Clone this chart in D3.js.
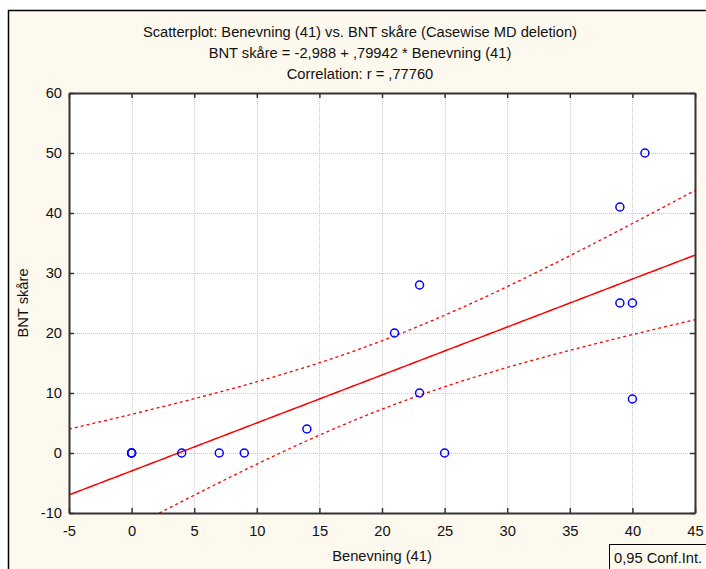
<!DOCTYPE html>
<html>
<head>
<meta charset="utf-8">
<script src="https://cdn.jsdelivr.net/npm/d3@7"></script>
<style>
  html, body { margin: 0; padding: 0; background: #ffffff; }
  svg { display: block; font-family: "Liberation Sans", Arial, sans-serif; }
  .tick text { font-size: 14.7px; fill: #111; }
</style>
</head>
<body>
<div id="chart"></div>
<script>
// data (three cases sit on top of each other at 0,0)
const benevning = [0, 0, 0, 4, 7, 9, 14, 21, 23, 23, 25, 39, 39, 40, 40, 41];
const bntSkare  = [0, 0, 0, 0, 0, 0, 4, 20, 28, 10, 0, 41, 25, 25, 9, 50];
const xTicks = [-5, 0, 5, 10, 15, 20, 25, 30, 35, 40, 45];
const yTicks = [-10, 0, 10, 20, 30, 40, 50, 60];
const titleLines = [
    'Scatterplot: Benevning (41) vs. BNT skåre (Casewise MD deletion)',
    'BNT skåre = -2,988 + ,79942 * Benevning (41)',
    'Correlation: r = ,77760'
];

const width = 706, height = 569;
const margin = { left: 69, right: 11, top: 93, bottom: 56 };
const fs = 14.7;

const svg = d3.select('#chart')
    .append('svg')
    .attr('width', width)
    .attr('height', height);

// outer panel
svg.append('rect')
    .attr('x', 8.5).attr('y', 10.5)
    .attr('width', 710).attr('height', 600)
    .attr('fill', '#fdf9ee')
    .attr('stroke', '#000')
    .attr('stroke-width', 1.5);

const x = d3.scaleLinear().domain([-5, 45]).range([margin.left, width - margin.right]);
const y = d3.scaleLinear().domain([-10, 60]).range([height - margin.bottom, margin.top]);

// plot area
svg.append('rect')
    .attr('x', x(-5)).attr('y', y(60))
    .attr('width', x(45) - x(-5)).attr('height', y(-10) - y(60))
    .attr('fill', '#fff');

// grid
const grid = svg.append('g')
    .attr('stroke', '#c8c8c8')
    .attr('stroke-width', 1)
    .attr('stroke-dasharray', '1,1');
grid.selectAll('.gx')
    .data(xTicks.slice(1, -1))
    .join('line')
    .attr('x1', d => Math.round(x(d)) + 0.5).attr('x2', d => Math.round(x(d)) + 0.5)
    .attr('y1', y(60)).attr('y2', y(-10));
grid.selectAll('.gy')
    .data(yTicks.slice(1, -1))
    .join('line')
    .attr('x1', x(-5)).attr('x2', x(45))
    .attr('y1', d => Math.round(y(d)) + 0.5).attr('y2', d => Math.round(y(d)) + 0.5);

// regression + 95% band of the mean
const n = benevning.length;
const mx = d3.mean(benevning), my = d3.mean(bntSkare);
let sxx = 0, sxy = 0, syy = 0;
for (let i = 0; i < n; i++) {
    sxx += (benevning[i] - mx) ** 2;
    sxy += (benevning[i] - mx) * (bntSkare[i] - my);
    syy += (bntSkare[i] - my) ** 2;
}
const slope = sxy / sxx;
const intercept = my - slope * mx;
const s = Math.sqrt((syy - slope * sxy) / (n - 2));
const tCrit = 2.1448; // t(0.975, 14)

const xs = d3.range(-5, 45.01, 0.25);
const fit = xv => intercept + slope * xv;
const half = xv => tCrit * s * Math.sqrt(1 / n + (xv - mx) ** 2 / sxx);

svg.append('clipPath').attr('id', 'plot-clip')
    .append('rect')
    .attr('x', x(-5)).attr('y', y(60))
    .attr('width', x(45) - x(-5)).attr('height', y(-10) - y(60));

const lines = svg.append('g').attr('clip-path', 'url(#plot-clip)')
    .attr('fill', 'none').attr('stroke', '#ff0000');
const line = d3.line().x(d => x(d[0])).y(d => y(d[1]));

lines.append('path')
    .attr('d', line(xs.map(v => [v, fit(v)])))
    .attr('stroke-width', 1.5);
lines.append('path')
    .attr('d', line(xs.map(v => [v, fit(v) + half(v)])))
    .attr('stroke-width', 1.3)
    .attr('stroke-dasharray', '3,3');
lines.append('path')
    .attr('d', line(xs.map(v => [v, fit(v) - half(v)])))
    .attr('stroke-width', 1.3)
    .attr('stroke-dasharray', '3,3');

// points
svg.append('g')
    .selectAll('circle')
    .data(benevning.map((b, i) => [b, bntSkare[i]]))
    .join('circle')
    .attr('cx', d => x(d[0]))
    .attr('cy', d => y(d[1]))
    .attr('r', 4)
    .attr('fill', 'none')
    .attr('stroke', '#0000ff')
    .attr('stroke-width', 1.5);

// axes, ticks pointing inward
const plain = d => String(d);
const axisStyle = g => {
    g.select('.domain').attr('stroke', '#333').attr('stroke-width', 2);
    g.selectAll('.tick line').attr('stroke', '#333').attr('stroke-width', 1.5);
};
svg.append('g')
    .attr('transform', `translate(0,${y(-10)})`)
    .call(d3.axisBottom(x).tickValues(xTicks).tickFormat(plain).tickSize(-5).tickPadding(11).tickSizeOuter(0))
    .call(axisStyle)
    .call(g => g.selectAll('.tick text').attr('dy', '0.85em'));
svg.append('g')
    .attr('transform', `translate(0,${y(60)})`)
    .call(d3.axisTop(x).tickValues(xTicks).tickSize(-5).tickFormat('').tickSizeOuter(0))
    .call(axisStyle);
svg.append('g')
    .attr('transform', `translate(${x(-5)},0)`)
    .call(d3.axisLeft(y).tickValues(yTicks).tickFormat(plain).tickSize(-5).tickPadding(7).tickSizeOuter(0))
    .call(axisStyle);
svg.append('g')
    .attr('transform', `translate(${x(45)},0)`)
    .call(d3.axisRight(y).tickValues(yTicks).tickSize(-5).tickFormat('').tickSizeOuter(0))
    .call(axisStyle);

// titles
svg.append('g')
    .selectAll('text')
    .data(titleLines)
    .join('text')
    .attr('x', 360)
    .attr('y', (d, i) => 37 + i * 21)
    .attr('text-anchor', 'middle')
    .attr('font-size', fs)
    .attr('fill', '#111')
    .text(d => d);

svg.append('text')
    .attr('x', (x(-5) + x(45)) / 2)
    .attr('y', 561)
    .attr('text-anchor', 'middle')
    .attr('font-size', fs)
    .attr('fill', '#111')
    .text('Benevning (41)');

svg.append('text')
    .attr('transform', `translate(28,${y(25)}) rotate(-90)`)
    .attr('text-anchor', 'middle')
    .attr('font-size', fs)
    .attr('fill', '#111')
    .text('BNT skåre');

// legend box
svg.append('rect')
    .attr('x', 609.5).attr('y', 544.5)
    .attr('width', 120).attr('height', 40)
    .attr('fill', '#fdf9ee')
    .attr('stroke', '#000')
    .attr('stroke-width', 1);
svg.append('text')
    .attr('x', 614).attr('y', 563)
    .attr('font-size', fs)
    .attr('fill', '#111')
    .text('0,95 Conf.Int.');
</script>
</body>
</html>
